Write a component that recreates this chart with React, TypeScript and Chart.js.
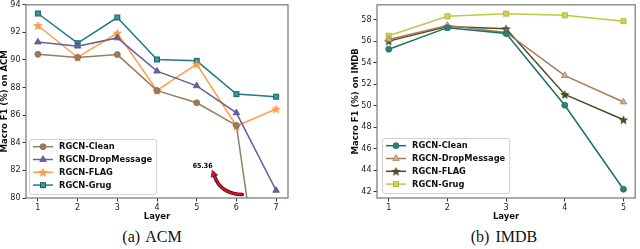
import React, { useEffect, useRef } from 'react';
import { Chart, registerables } from 'chart.js';
import { drawPoint } from 'chart.js/helpers';

Chart.register(...registerables);

const FONT = '"DejaVu Sans", "Liberation Sans", sans-serif';

// ---------- data ----------
const seriesNames = ['RGCN-Clean', 'RGCN-DropMessage', 'RGCN-FLAG', 'RGCN-Grug'];

const acmLayers = [1, 2, 3, 4, 5, 6, 7];
const acmClean = [90.41, 90.19, 90.39, 87.78, 86.9, 85.26, 65.36];
const acmDropMessage = [91.3, 91.0, 91.6, 89.19, 88.13, 86.17, 80.55];
const acmFLAG = [92.5, 90.19, 91.95, 87.8, 89.71, 85.22, 86.45];
const acmGrug = [93.37, 91.22, 93.08, 90.04, 89.94, 87.53, 87.34];
const acmYTicks = [80, 82, 84, 86, 88, 90, 92, 94];

const imdbLayers = [1, 2, 3, 4, 5];
const imdbClean = [55.25, 57.25, 56.7, 50.05, 42.25];
const imdbDropMessage = [56.15, 57.45, 56.8, 52.8, 50.35];
const imdbFLAG = [56.0, 57.35, 57.15, 51.05, 48.7];
const imdbGrug = [56.5, 58.3, 58.55, 58.4, 57.85];
const imdbYTicks = [42, 44, 46, 48, 50, 52, 54, 56, 58];

const acmNote = '65.36';
// annotation anchor points (data units)
const noteText = [5.15, 82.3];
const arrowTail = [6.15, 80.25];
const arrowCtrl = [5.6, 80.3];
const arrowHead = [5.4, 82.0];

// ---------- marker images ----------
function makeStar(fill: string, stroke: string, r: number) {
  const c = document.createElement('canvas');
  const s = Math.ceil(r * 2 + 2);
  c.width = s;
  c.height = s;
  const g = c.getContext('2d')!;
  g.beginPath();
  for (let i = 0; i < 10; i++) {
    const a = -Math.PI / 2 + (i * Math.PI) / 5;
    const rr = i % 2 === 0 ? r : r * 0.42;
    g.lineTo(s / 2 + rr * Math.cos(a), s / 2 + 0.5 + rr * Math.sin(a));
  }
  g.closePath();
  g.fillStyle = fill;
  g.fill();
  g.strokeStyle = stroke;
  g.lineWidth = 0.7;
  g.stroke();
  return c;
}

function makeSquare(fill: string, stroke: string, cross: string | null, side: number) {
  const c = document.createElement('canvas');
  const s = side + 2;
  c.width = s;
  c.height = s;
  const g = c.getContext('2d')!;
  g.fillStyle = fill;
  g.fillRect(1, 1, side, side);
  g.strokeStyle = stroke;
  g.lineWidth = 0.8;
  g.strokeRect(1.4, 1.4, side - 0.8, side - 0.8);
  if (cross) {
    g.strokeStyle = cross;
    g.lineWidth = 0.8;
    g.beginPath();
    g.moveTo(2, 2);
    g.lineTo(s - 2, s - 2);
    g.moveTo(s - 2, 2);
    g.lineTo(2, s - 2);
    g.stroke();
  }
  return c;
}

// ---------- plugins ----------
function framePlugin() {
  return {
    id: 'frame',
    afterDatasetsDraw(chart: any) {
      const { ctx, chartArea: a } = chart;
      ctx.save();
      ctx.strokeStyle = '#808080';
      ctx.lineWidth = 1.3;
      ctx.strokeRect(a.left, a.top, a.right - a.left, a.bottom - a.top);
      ctx.restore();
    },
  };
}

function legendPlugin(offX: number, offY: number) {
  return {
    id: 'boxLegend',
    afterDraw(chart: any) {
      const { ctx, chartArea: a } = chart;
      const ds = chart.data.datasets;
      ctx.save();
      ctx.font = 'bold 8.3px ' + FONT;
      const tw = Math.max(...ds.map((d: any) => ctx.measureText(d.label).width));
      const rowH = 12.8;
      const boxW = 30 + tw + 4;
      const boxH = 55;
      const bx = a.left + offX;
      const by = a.bottom - offY - boxH;
      ctx.beginPath();
      (ctx as any).roundRect(bx + 0.5, by + 0.5, boxW, boxH, 2.5);
      ctx.fillStyle = 'rgba(255,255,255,0.85)';
      ctx.fill();
      ctx.strokeStyle = '#d0d0d0';
      ctx.lineWidth = 1;
      ctx.stroke();
      ds.forEach((d: any, i: number) => {
        const y = by + 7.7 + i * rowH;
        ctx.strokeStyle = d.borderColor;
        ctx.lineWidth = d.borderWidth;
        ctx.beginPath();
        ctx.moveTo(bx + 4, y);
        ctx.lineTo(bx + 24, y);
        ctx.stroke();
        ctx.fillStyle = d.pointBackgroundColor;
        ctx.strokeStyle = d.pointBorderColor;
        ctx.lineWidth = d.pointBorderWidth;
        drawPoint(ctx, { pointStyle: d.pointStyle, radius: d.pointRadius, rotation: 0, borderWidth: d.pointBorderWidth } as any, bx + 14, y);
        ctx.fillStyle = '#111';
        ctx.textBaseline = 'middle';
        ctx.textAlign = 'left';
        ctx.font = 'bold 8.3px ' + FONT;
        ctx.fillText(d.label, bx + 30, y + 0.5);
      });
      ctx.restore();
    },
  };
}

function notePlugin() {
  return {
    id: 'note',
    afterDatasetsDraw(chart: any) {
      const { ctx } = chart;
      const xs = chart.scales.x;
      const ys = chart.scales.y;
      const P = (p: number[]) => [xs.getPixelForValue(p[0]), ys.getPixelForValue(p[1])];
      const t = P(arrowTail);
      const c = P(arrowCtrl);
      const h = P(arrowHead);
      const dx = h[0] - c[0];
      const dy = h[1] - c[1];
      const len = Math.hypot(dx, dy);
      const ux = dx / len;
      const uy = dy / len;
      const base = [h[0] - ux * 6, h[1] - uy * 6];
      ctx.save();
      ctx.lineCap = 'round';
      ctx.strokeStyle = '#3a0008';
      ctx.lineWidth = 3.4;
      ctx.beginPath();
      ctx.moveTo(t[0], t[1]);
      ctx.quadraticCurveTo(c[0], c[1], base[0], base[1]);
      ctx.stroke();
      ctx.strokeStyle = '#d4102a';
      ctx.lineWidth = 2;
      ctx.beginPath();
      ctx.moveTo(t[0], t[1]);
      ctx.quadraticCurveTo(c[0], c[1], base[0], base[1]);
      ctx.stroke();
      ctx.beginPath();
      ctx.moveTo(h[0], h[1]);
      ctx.lineTo(base[0] - uy * 3.2, base[1] + ux * 3.2);
      ctx.lineTo(base[0] + uy * 3.2, base[1] - ux * 3.2);
      ctx.closePath();
      ctx.fillStyle = '#d4102a';
      ctx.fill();
      ctx.strokeStyle = '#3a0008';
      ctx.lineWidth = 0.7;
      ctx.stroke();
      const n = P(noteText);
      ctx.fillStyle = '#000';
      ctx.font = 'bold 7px "DejaVu Sans Condensed", ' + FONT;
      ctx.textAlign = 'center';
      ctx.textBaseline = 'middle';
      ctx.fillText(acmNote, n[0], n[1]);
      ctx.restore();
    },
  };
}

// ---------- chart builder ----------
type Style = { color: string; fill: string; border: string; style: any; radius: number };

function buildChart(
  canvas: HTMLCanvasElement,
  layers: number[],
  series: number[][],
  styles: Style[],
  xMin: number,
  xMax: number,
  yMin: number,
  yMax: number,
  yTicks: number[],
  yTitle: string,
  padding: any,
  legendOff: number[],
  extra: any[]
) {
  const datasets = series.map((vals, i) => ({
    label: seriesNames[i],
    data: vals.map((v, j) => ({ x: layers[j], y: v })),
    borderColor: styles[i].color,
    borderWidth: 1.5,
    pointStyle: styles[i].style,
    pointRadius: styles[i].radius,
    pointBackgroundColor: styles[i].fill,
    pointBorderColor: styles[i].border,
    pointBorderWidth: 0.8,
    fill: false,
    tension: 0,
  }));
  const tickFont = { family: FONT, size: 8 };
  const titleFont = { family: FONT, size: 8.5, weight: 'bold' as const };
  return new Chart(canvas, {
    type: 'line',
    data: { datasets },
    options: {
      animation: false,
      responsive: false,
      devicePixelRatio: 1,
      layout: { padding },
      plugins: { legend: { display: false }, tooltip: { enabled: false } },
      scales: {
        x: {
          type: 'linear',
          min: xMin,
          max: xMax,
          afterBuildTicks: (s: any) => {
            s.ticks = layers.map((v) => ({ value: v }));
          },
          afterFit: (s: any) => {
            s.height = 27;
            s.paddingLeft = 0;
            s.paddingRight = 0;
          },
          grid: { drawOnChartArea: false, drawTicks: true, tickLength: 3.5, color: '#333', tickColor: '#333' },
          border: { display: false },
          ticks: { font: tickFont, color: '#222', padding: 1.5, maxRotation: 0, autoSkip: false },
          title: { display: true, text: 'Layer', font: titleFont, color: '#111', padding: { top: 0, bottom: 3 } },
        },
        y: {
          type: 'linear',
          min: yMin,
          max: yMax,
          afterBuildTicks: (s: any) => {
            s.ticks = yTicks.map((v) => ({ value: v }));
          },
          afterFit: (s: any) => {
            s.width = 26;
            s.paddingTop = 0;
            s.paddingBottom = 0;
          },
          grid: { drawOnChartArea: false, drawTicks: true, tickLength: 3.5, color: '#333', tickColor: '#333' },
          border: { display: false },
          ticks: { font: tickFont, color: '#222', padding: 2, autoSkip: false },
          title: { display: true, text: yTitle, font: titleFont, color: '#111', padding: { top: 0, bottom: 0 } },
        },
      },
    },
    plugins: [framePlugin(), ...extra, legendPlugin(legendOff[0], legendOff[1])],
  } as any);
}

export default function App() {
  const leftRef = useRef<HTMLCanvasElement>(null);
  const rightRef = useRef<HTMLCanvasElement>(null);

  useEffect(() => {
    const acmStyles: Style[] = [
      { color: '#9a7b5f', fill: '#9a7b5f', border: '#8a6b4f', style: 'circle', radius: 3 },
      { color: '#6b5f9e', fill: '#6b5f9e', border: '#5b4f8e', style: 'triangle', radius: 3.8 },
      { color: '#ffa04a', fill: '#ffa04a', border: '#f08a30', style: makeStar('#ffa04a', '#f08a30', 4.2), radius: 4 },
      { color: '#1c7c84', fill: '#1c7c84', border: '#1c7c84', style: makeSquare('#1c7c84', '#16666c', '#6fb5b8', 6), radius: 4 },
    ];
    const imdbStyles: Style[] = [
      { color: '#1d6f68', fill: '#2f7f77', border: '#1d6f68', style: 'circle', radius: 3 },
      { color: '#a67c57', fill: '#d2b090', border: '#a67c57', style: 'triangle', radius: 3.8 },
      { color: '#4d4d22', fill: '#4d4d22', border: '#3d3d18', style: makeStar('#4d4d22', '#3d3d18', 4.2), radius: 4 },
      { color: '#c2c93e', fill: '#c2c93e', border: '#b0b730', style: makeSquare('#c8cf48', '#b0b730', '#d8dc80', 6), radius: 4 },
    ];
    const a = buildChart(
      leftRef.current!,
      acmLayers,
      [acmClean, acmDropMessage, acmFLAG, acmGrug],
      acmStyles,
      0.7,
      7.3,
      80,
      94,
      acmYTicks,
      'Macro F1 (%) on ACM',
      { left: 0, right: 12, top: 3, bottom: 0 },
      [3, 4],
      [notePlugin()]
    );
    const b = buildChart(
      rightRef.current!,
      imdbLayers,
      [imdbClean, imdbDropMessage, imdbFLAG, imdbGrug],
      imdbStyles,
      0.8,
      5.2,
      41.44,
      59.37,
      imdbYTicks,
      'Macro F1 (%) on IMDB',
      { left: 31, right: 3, top: 3, bottom: 0 },
      [5, 5],
      []
    );
    return () => {
      a.destroy();
      b.destroy();
    };
  }, []);

  const cap = (left: number): React.CSSProperties => ({
    position: 'absolute',
    left,
    top: 227.5,
    width: 200,
    height: 18,
    lineHeight: '18px',
    textAlign: 'center',
    fontFamily: '"Liberation Serif", "Times New Roman", serif',
    fontSize: 16,
    wordSpacing: 2,
    color: '#111',
    whiteSpace: 'nowrap',
  });

  return (
    <div style={{ position: 'fixed', left: 0, top: 0, width: 640, height: 249, background: '#fff', overflow: 'hidden' }}>
      <canvas ref={leftRef} width={300} height={225} style={{ position: 'absolute', left: 0, top: 0 }} />
      <canvas ref={rightRef} width={320} height={225} style={{ position: 'absolute', left: 320, top: 0 }} />
      <div style={cap(52)}>(a) ACM</div>
      <div style={cap(404)}>(b) IMDB</div>
    </div>
  );
}
